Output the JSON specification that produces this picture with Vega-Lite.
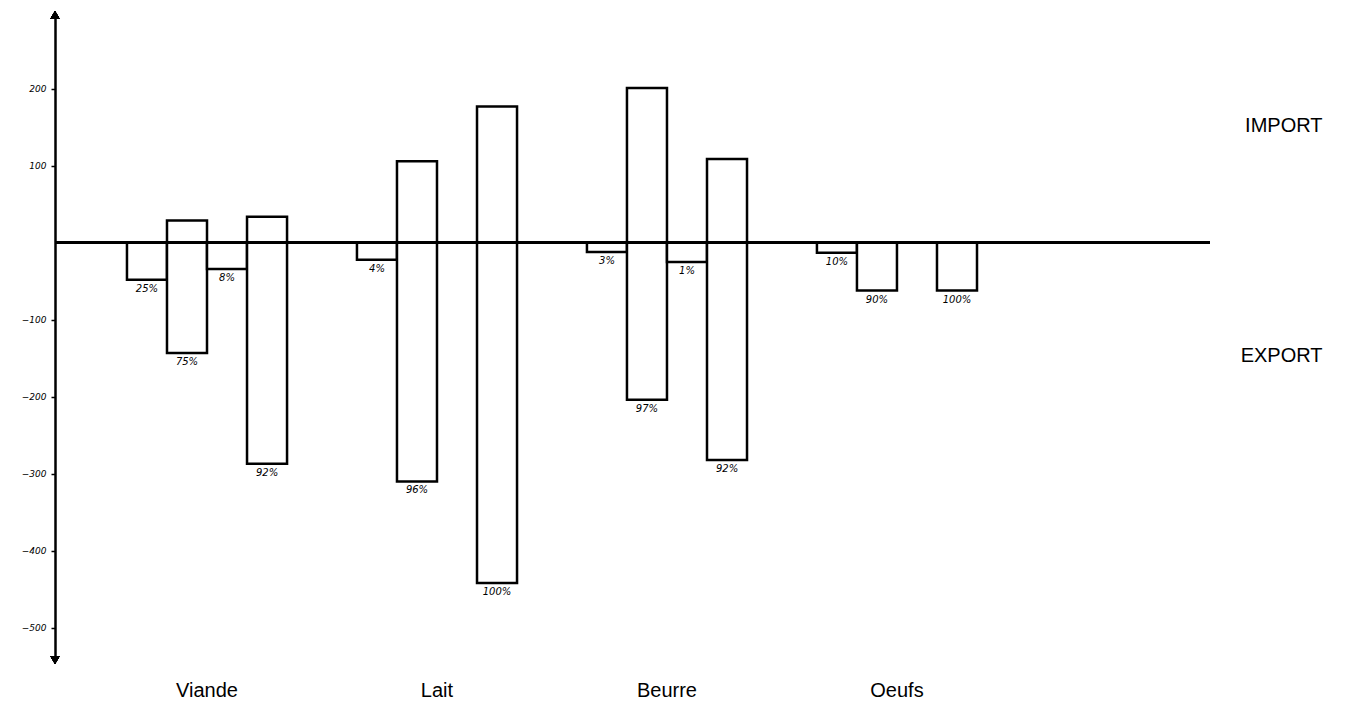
{
  "$schema": "https://vega.github.io/schema/vega-lite/v6.json",
  "autosize": {"type": "none"},
  "padding": {"left": 55, "top": 15, "right": 152, "bottom": 51},
  "width": 1155,
  "height": 645,
  "background": "white",
  "config": {"view": {"stroke": null}},
  "data": {
    "values": [
      {"product": "Viande", "slot": "s1", "import": 0, "export": -48, "pct": "25%"},
      {"product": "Viande", "slot": "b1", "import": 29, "export": -143, "pct": "75%"},
      {"product": "Viande", "slot": "s2", "import": 0, "export": -34, "pct": "8%"},
      {"product": "Viande", "slot": "b2", "import": 34, "export": -287, "pct": "92%"},
      {"product": "Lait", "slot": "s1", "import": 0, "export": -22, "pct": "4%"},
      {"product": "Lait", "slot": "b1", "import": 106, "export": -310, "pct": "96%"},
      {"product": "Lait", "slot": "b2", "import": 177, "export": -442, "pct": "100%"},
      {"product": "Beurre", "slot": "s1", "import": 0, "export": -12, "pct": "3%"},
      {"product": "Beurre", "slot": "b1", "import": 201, "export": -204, "pct": "97%"},
      {"product": "Beurre", "slot": "s2", "import": 0, "export": -25, "pct": "1%"},
      {"product": "Beurre", "slot": "b2", "import": 109, "export": -282, "pct": "92%"},
      {"product": "Oeufs", "slot": "s1", "import": 0, "export": -13, "pct": "10%"},
      {"product": "Oeufs", "slot": "b1", "import": 0, "export": -62, "pct": "90%"},
      {"product": "Oeufs", "slot": "b2", "import": 0, "export": -62, "pct": "100%"}
    ]
  },
  "resolve": {"axis": {"y": "independent"}},
  "layer": [
    {
      "mark": {"type": "bar", "fill": "white", "stroke": "black", "strokeWidth": 2.5},
      "encoding": {
        "x": {
          "field": "product", "type": "nominal",
          "scale": {"domain": ["Viande", "Lait", "Beurre", "Oeufs"], "paddingInner": 0.304, "paddingOuter": 0.663, "align": 0.236},
          "axis": {"title": null, "orient": "bottom", "domain": false, "ticks": false, "tickSize": 0, "labelPadding": 20, "labelFontSize": 20, "labelFont": "Liberation Sans", "labelColor": "black", "labelAngle": 0}
        },
        "xOffset": {
          "field": "slot", "type": "nominal",
          "scale": {"domain": ["s1", "b1", "s2", "b2"], "paddingInner": 0, "paddingOuter": 0}
        },
        "y": {
          "field": "import", "type": "quantitative",
          "scale": {"domain": [-542, 296], "nice": false, "zero": false},
          "axis": {"values": [200, 100, -100, -200, -300, -400, -500], "title": null, "grid": false, "domainColor": "black", "domainWidth": 2.5, "tickColor": "black", "tickSize": 4, "tickWidth": 1.5, "labelFontSize": 9, "labelColor": "black", "labelFontStyle": "italic", "labelFont": "DejaVu Sans", "labelPadding": 5}
        },
        "y2": {"field": "export"}
      }
    },
    {
      "mark": {"type": "rule", "color": "black", "strokeWidth": 2.5},
      "encoding": {
        "y": {
          "datum": 0, "type": "quantitative",
          "scale": {"domain": [-542, 296], "nice": false, "zero": false},
          "axis": {"orient": "right", "values": [152, -147], "labelExpr": "datum.value > 0 ? 'IMPORT' : 'EXPORT'", "title": null, "grid": false, "domain": false, "ticks": false, "tickSize": 0, "labelFontSize": 20, "labelFont": "Liberation Sans", "labelColor": "black", "labelAlign": "right", "labelPadding": 112, "labelOverlap": false}
        }
      }
    },
    {
      "mark": {"type": "text", "baseline": "top", "dy": 4, "fontSize": 10, "fontStyle": "italic", "font": "DejaVu Sans", "color": "black"},
      "encoding": {
        "x": {"field": "product", "type": "nominal"},
        "xOffset": {"field": "slot", "type": "nominal"},
        "y": {"field": "export", "type": "quantitative", "scale": {"domain": [-542, 296], "nice": false, "zero": false}, "axis": null},
        "text": {"field": "pct"}
      }
    },
    {
      "mark": {"type": "point", "shape": "triangle-up", "filled": true, "color": "black", "size": 90, "opacity": 1},
      "encoding": {
        "x": {"value": 0},
        "y": {"datum": 296, "type": "quantitative", "scale": {"domain": [-542, 296], "nice": false, "zero": false}, "axis": null}
      }
    },
    {
      "mark": {"type": "point", "shape": "triangle-down", "filled": true, "color": "black", "size": 90, "opacity": 1},
      "encoding": {
        "x": {"value": 0},
        "y": {"datum": -542, "type": "quantitative", "scale": {"domain": [-542, 296], "nice": false, "zero": false}, "axis": null}
      }
    }
  ]
}
